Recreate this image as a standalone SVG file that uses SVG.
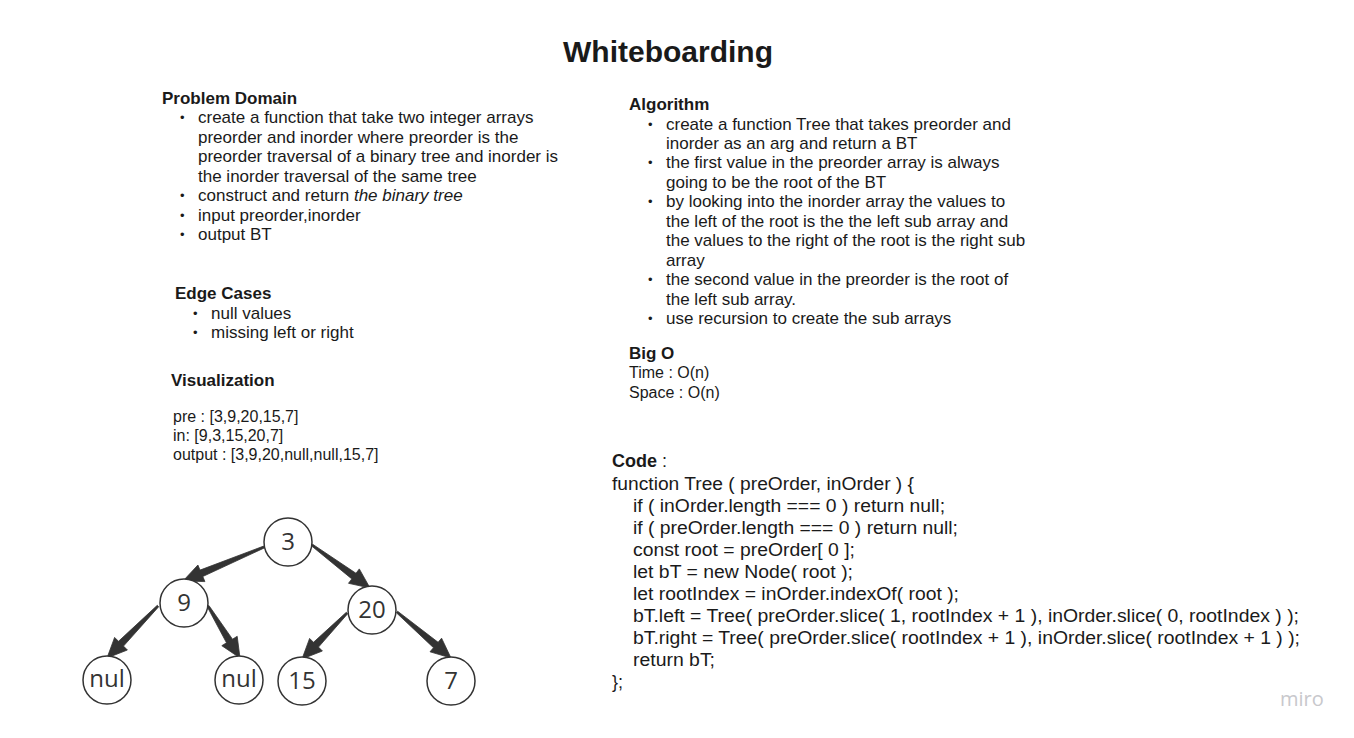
<svg xmlns="http://www.w3.org/2000/svg" width="1354" height="738" viewBox="0 0 1354 738">
<style>
text{font-family:"Liberation Sans",Arial,sans-serif;fill:#1a1a1a}
.title{font-size:30px;font-weight:bold}
.h{font-size:17px;font-weight:bold}
.t{font-size:17px}
.b{font-size:13px}
.v{font-size:16px}
.c{font-size:18px}
.ch{font-size:18px;font-weight:bold}
.node circle{fill:#fff;stroke:#333;stroke-width:1.5}
.node text{font-family:"Open Sans","Noto Sans",sans-serif;font-size:24px;fill:#333;text-anchor:middle}
.edge{fill:#333;stroke:#333;stroke-width:0.8;stroke-linejoin:round}
.miro{font-family:"Open Sans",sans-serif;font-size:20px;fill:#c8c8cc}
</style>
<rect width="1354" height="738" fill="#fff"/>
<text class="title" x="668" y="62" text-anchor="middle">Whiteboarding</text>

<g id="problem-domain">
<text class="h" x="162" y="104">Problem Domain</text>
<text class="b" x="180" y="122">•</text><text class="t" x="198" y="123">create a function that take two integer arrays</text>
<text class="t" x="198" y="143">preorder and inorder where preorder is the</text>
<text class="t" x="198" y="162">preorder traversal of a binary tree and inorder is</text>
<text class="t" x="198" y="182">the inorder traversal of the same tree</text>
<text class="b" x="180" y="200">•</text><text class="t" x="198" y="201">construct and return <tspan font-style="italic">the binary tree</tspan></text>
<text class="b" x="180" y="220">•</text><text class="t" x="198" y="221">input preorder,inorder</text>
<text class="b" x="180" y="239">•</text><text class="t" x="198" y="240">output BT</text>
</g>

<g id="edge-cases">
<text class="h" x="175" y="299">Edge Cases</text>
<text class="b" x="193" y="318">•</text><text class="t" x="211" y="319">null values</text>
<text class="b" x="193" y="337">•</text><text class="t" x="211" y="338">missing left or right</text>
</g>

<g id="visualization">
<text class="h" x="171" y="386">Visualization</text>
<text class="v" x="173" y="422">pre : [3,9,20,15,7]</text>
<text class="v" x="173" y="441">in: [9,3,15,20,7]</text>
<text class="v" x="173" y="460">output : [3,9,20,null,null,15,7]</text>
</g>

<g id="algorithm">
<text class="h" x="629" y="110">Algorithm</text>
<text class="b" x="648" y="129">•</text><text class="t" x="666" y="130">create a function Tree that takes preorder and</text>
<text class="t" x="666" y="149">inorder as an arg and return a BT</text>
<text class="b" x="648" y="167">•</text><text class="t" x="666" y="168">the first value in the preorder array is always</text>
<text class="t" x="666" y="188">going to be the root of the BT</text>
<text class="b" x="648" y="206">•</text><text class="t" x="666" y="207">by looking into the inorder array the values to</text>
<text class="t" x="666" y="227">the left of the root is the the left sub array and</text>
<text class="t" x="666" y="246">the values to the right of the root is the right sub</text>
<text class="t" x="666" y="266">array</text>
<text class="b" x="648" y="284">•</text><text class="t" x="666" y="285">the second value in the preorder is the root of</text>
<text class="t" x="666" y="305">the left sub array.</text>
<text class="b" x="648" y="323">•</text><text class="t" x="666" y="324">use recursion to create the sub arrays</text>
</g>

<g id="big-o">
<text class="h" x="629" y="359">Big O</text>
<text class="v" x="629" y="378">Time : O(n)</text>
<text class="v" x="629" y="398">Space : O(n)</text>
</g>

<g id="code">
<text class="c" x="612" y="467"><tspan class="ch">Code</tspan> :</text>
<text class="c" x="612" y="490" textLength="302" lengthAdjust="spacingAndGlyphs">function Tree ( preOrder, inOrder ) {</text>
<text class="c" x="633" y="512" textLength="312" lengthAdjust="spacingAndGlyphs">if ( inOrder.length === 0 ) return null;</text>
<text class="c" x="633" y="534" textLength="325" lengthAdjust="spacingAndGlyphs">if ( preOrder.length === 0 ) return null;</text>
<text class="c" x="633" y="556" textLength="222" lengthAdjust="spacingAndGlyphs">const root = preOrder[ 0 ];</text>
<text class="c" x="633" y="578" textLength="220" lengthAdjust="spacingAndGlyphs">let bT = new Node( root );</text>
<text class="c" x="633" y="600" textLength="326" lengthAdjust="spacingAndGlyphs">let rootIndex = inOrder.indexOf( root );</text>
<text class="c" x="633" y="622" textLength="666" lengthAdjust="spacingAndGlyphs">bT.left = Tree( preOrder.slice( 1, rootIndex + 1 ), inOrder.slice( 0, rootIndex ) );</text>
<text class="c" x="633" y="644" textLength="667" lengthAdjust="spacingAndGlyphs">bT.right = Tree( preOrder.slice( rootIndex + 1 ), inOrder.slice( rootIndex + 1 ) );</text>
<text class="c" x="633" y="666" textLength="82" lengthAdjust="spacingAndGlyphs">return bT;</text>
<text class="c" x="612" y="688">};</text>
</g>

<g id="connectors">
<path class="edge" d="M263.6,546.1 L200.0,570.1 L197.9,565.0 L183,581 L204.9,581.6 L202.8,576.5 L264.4,547.9 Z"/>
<path class="edge" d="M311.4,545.8 L351.8,578.9 L348.5,583.3 L370,588 L359.3,568.9 L356.0,573.3 L312.6,544.2 Z"/>
<path class="edge" d="M157.3,605.3 L118.5,641.3 L114.6,637.4 L107,658 L127.4,650.0 L123.5,646.1 L158.7,606.7 Z"/>
<path class="edge" d="M207.1,606.5 L226.5,642.8 L221.8,645.7 L240,658 L237.2,636.3 L232.5,639.2 L208.9,605.5 Z"/>
<path class="edge" d="M346.3,612.3 L313.5,642.3 L309.6,638.4 L302,659 L322.4,651.0 L318.5,647.1 L347.7,613.7 Z"/>
<path class="edge" d="M396.4,612.8 L433.5,647.7 L430.0,651.8 L451,658 L441.6,638.2 L438.1,642.3 L397.6,611.2 Z"/>
</g>

<g id="node-3" class="node"><circle cx="288" cy="542" r="24"/><text x="288" y="550">3</text></g>
<g id="node-9" class="node"><circle cx="184" cy="603" r="24"/><text x="184" y="611">9</text></g>
<g id="node-20" class="node"><circle cx="372" cy="610" r="24"/><text x="372" y="618">20</text></g>
<g id="node-nul-1" class="node"><circle cx="107" cy="680" r="24"/><text x="107" y="687">nul</text></g>
<g id="node-nul-2" class="node"><circle cx="239" cy="680" r="24"/><text x="239" y="687">nul</text></g>
<g id="node-15" class="node"><circle cx="302" cy="681" r="24"/><text x="302" y="689">15</text></g>
<g id="node-7" class="node"><circle cx="451" cy="681" r="24"/><text x="451" y="689">7</text></g>

<text class="miro" x="1280" y="706">miro</text>
</svg>
